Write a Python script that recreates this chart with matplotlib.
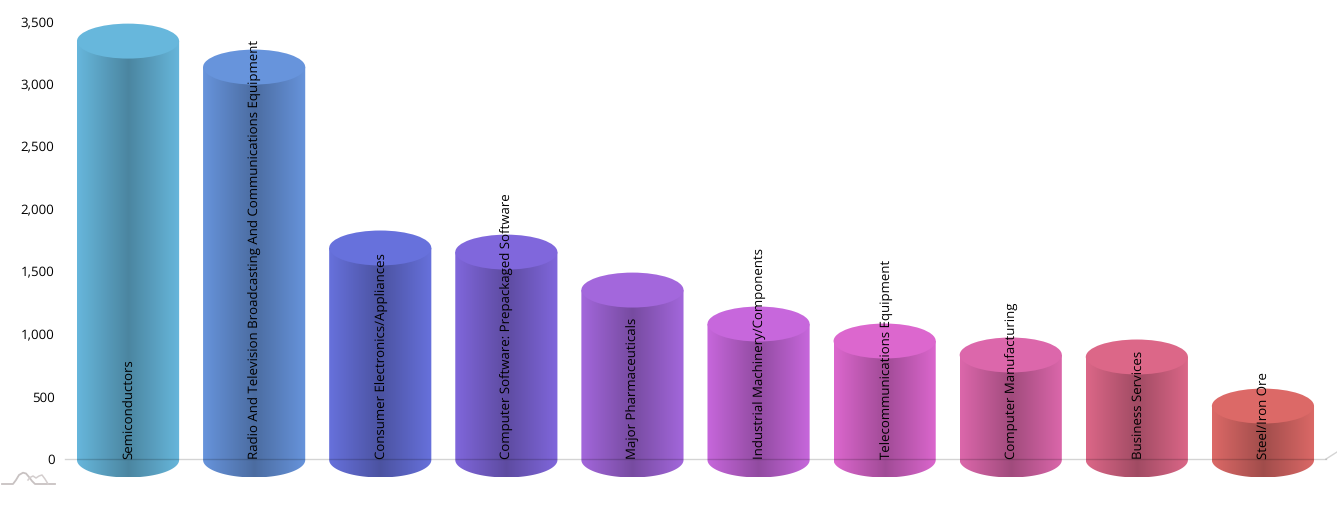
import numpy as np
import matplotlib
matplotlib.use("Agg")
import matplotlib.pyplot as plt
from matplotlib.patches import Ellipse, PathPatch
from matplotlib.path import Path
from matplotlib.colors import to_rgb
from matplotlib.transforms import offset_copy

plt.rcParams["text.hinting"] = "no_hinting"
plt.rcParams["text.hinting_factor"] = 8

categories = ["Semiconductors", "Radio And Television Broadcasting And Communications Equipment",
              "Consumer Electronics/Appliances", "Computer Software: Prepackaged Software",
              "Major Pharmaceuticals", "Industrial Machinery/Components",
              "Telecommunications Equipment", "Computer Manufacturing",
              "Business Services", "Steel/Iron Ore"]
values = [3347, 3139, 1690, 1657, 1353, 1081, 945, 833, 817, 424]
colors = ["#67B7DC", "#6794DC", "#6771DC", "#8067DC", "#A367DC",
          "#C767DC", "#DC67CE", "#DC67AB", "#DC6788", "#DC6967"]
yticks = [0, 500, 1000, 1500, 2000, 2500, 3000, 3500]

W, H = 1337, 505
fig = plt.figure(figsize=(W / 100, H / 100), dpi=100)
fig.patch.set_facecolor("white")
x0, x1, y0, y1 = 65, 1326, 459, 22
ax = fig.add_axes([x0 / W, 1 - y0 / H, (x1 - x0) / W, (y0 - y1) / H])
ax.set_xlim(-0.5, 9.5)
ax.set_ylim(0, 3500)
for s in ax.spines.values():
    s.set_visible(False)
ax.set_xticks([])
ax.set_yticks(yticks)
ax.set_yticklabels([f"{v:,}" for v in yticks], fontsize=9.5, family="Open Sans", color="black")
ax.tick_params(axis="y", length=0, pad=7.5)

bar_w = 0.81
ry = 140
base_drop = 8
grad_x = np.linspace(0, 1, 256)
shade = 1 - 0.27 * (1 - np.abs(2 * grad_x - 1))
label_tf = offset_copy(ax.transData, fig=fig, x=1.5, y=0, units="dots")
for i, (v, c) in enumerate(zip(values, colors)):
    rgb = np.array(to_rgb(c))
    left, right = i - bar_w / 2, i + bar_w / 2
    img = np.ones((1, 256, 3)) * rgb * shade[None, :, None]
    t = np.linspace(0, np.pi, 60)
    bx = i + bar_w / 2 * np.cos(t + np.pi)
    by = -base_drop - ry * np.sin(t)
    verts = [(left, v)] + list(zip(bx, by)) + [(right, v), (left, v)]
    path = Path(verts)
    patch = PathPatch(path, transform=ax.transData, fc="none", ec="none", clip_on=False)
    ax.add_patch(patch)
    im = ax.imshow(img, extent=(left, right, -ry - base_drop, v), aspect="auto", zorder=2, interpolation="bilinear")
    im.set_clip_box(fig.bbox)
    im.set_clip_path(patch)
    top = Ellipse((i, v), bar_w, 2 * ry, fc=c, ec="none", zorder=3, clip_on=False)
    ax.add_patch(top)
    ax.text(i, 0, categories[i], rotation=90, ha="center", va="bottom", transform=label_tf,
            fontsize=9.5, family="Open Sans", color="black", zorder=6, clip_on=False)
ax.set_xlim(-0.5, 9.5)
ax.set_ylim(0, 3500)
ax.axhline(0, color="black", alpha=0.17, lw=1, zorder=5, clip_on=False)
fig.add_artist(plt.Line2D([1326 / W, 1337 / W], [1 - 459 / H, 1 - 452 / H], color="black", alpha=0.17, lw=1))

logo_a_x = [2, 13, 16, 19, 23, 26, 29, 32, 35, 55]
logo_a_y = [484, 484, 480, 475, 472.7, 473.5, 477, 481, 484, 484]
logo_b_x = [28, 30, 33, 36, 39, 42, 45, 48]
logo_b_y = [480, 477.5, 476, 478, 476, 475, 479, 484]
fig.add_artist(plt.Line2D([a / W for a in logo_a_x], [1 - b / H for b in logo_a_y], color="#c8c2c2", lw=1.3))
fig.add_artist(plt.Line2D([a / W for a in logo_b_x], [1 - b / H for b in logo_b_y], color="#d4cece", lw=1.1))
fig.savefig("out.png", dpi=100)
